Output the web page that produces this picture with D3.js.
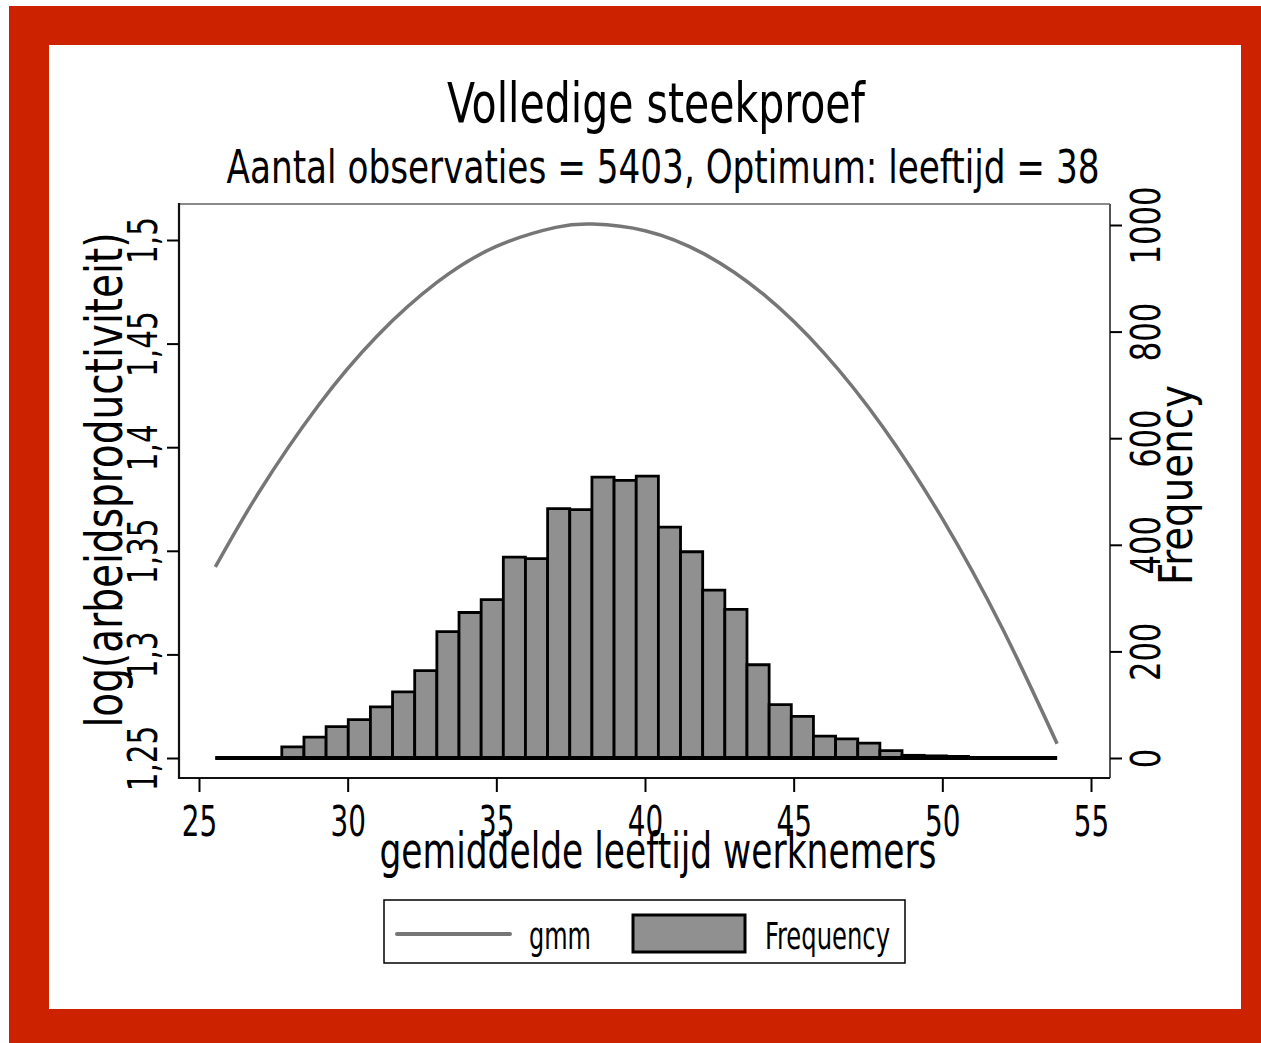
<!DOCTYPE html>
<html><head><meta charset="utf-8">
<script src="https://cdn.jsdelivr.net/npm/d3@7"></script>
<style>
body{margin:0;background:#fff}
svg{display:block}
text{font-family:'Liberation Sans Narrow','DejaVu Sans Condensed','Arial Narrow',sans-serif;fill:#000}
</style>
</head><body>
<svg id="c" width="1261" height="1043"></svg>
<script>
// ---------- data ----------
const titleText = "Volledige steekproef";
const subtitleText = "Aantal observaties = 5403, Optimum: leeftijd = 38";
const xLabel = "gemiddelde leeftijd werknemers";
const yLeftLabel = "log(arbeidsproductiviteit)";
const yRightLabel = "Frequency";
const legendLabels = ["gmm", "Frequency"];

const xTicks = [25, 30, 35, 40, 45, 50, 55];
const xTickLabels = ["25", "30", "35", "40", "45", "50", "55"];
const yLeftTicks = [1.25, 1.3, 1.35, 1.4, 1.45, 1.5];
const yLeftTickLabels = ["1,25", "1,3", "1,35", "1,4", "1,45", "1,5"];
const yRightTicks = [0, 200, 400, 600, 800, 1000];
const yRightTickLabels = ["0", "200", "400", "600", "800", "1000"];

// histogram of average employee age (38 bins)
const histStart = 25.55;
const histBinWidth = 0.745;
const frequencies = [0, 0, 0, 21, 39, 59, 72, 96, 124, 164, 237, 273, 297, 377, 374, 468, 466, 527, 521, 529,
                     433, 387, 315, 279, 175, 100, 78, 41, 36, 28, 14, 5, 4, 3, 1, 0, 0, 0];

// gmm fitted curve (age, log productivity)
const gmmAge   = [25.55, 27, 29, 31, 33, 35, 37, 38.24, 40, 42, 44, 46, 48, 50, 52, 53.86];
const gmmValue = [1.3422, 1.3779, 1.4199, 1.4538, 1.4795, 1.4969, 1.5061, 1.5077, 1.5045, 1.4932,
                  1.4736, 1.4458, 1.4098, 1.3655, 1.3131, 1.2569];

// ---------- layout ----------
const svg = d3.select("#c");
const frame = {l: 179, r: 1110, t: 204, b: 778};
const x  = d3.scaleLinear().domain([25, 55]).range([199, 1091]);
const yL = d3.scaleLinear().domain([1.25, 1.5]).range([758, 240]);
const yR = d3.scaleLinear().domain([0, 1000]).range([758, 225]);
const barFill = "#909090", lineCol = "#767676";

function squeeze(sel, k) {
  sel.each(function() {
    const len = this.getComputedTextLength();
    d3.select(this).attr("textLength", len * k).attr("lengthAdjust", "spacingAndGlyphs");
  });
}
function fitTo(sel, w) {
  sel.attr("textLength", w).attr("lengthAdjust", "spacingAndGlyphs");
}

// background + red border
svg.append("rect").attr("x", 9).attr("y", 6).attr("width", 1252).attr("height", 1037).attr("fill", "#cc2200");
svg.append("rect").attr("x", 49).attr("y", 45).attr("width", 1192).attr("height", 964).attr("fill", "#fff");

// titles
fitTo(svg.append("text").attr("x", 656).attr("y", 122).attr("text-anchor", "middle")
  .attr("font-size", 56).text(titleText), 418);
fitTo(svg.append("text").attr("x", 663).attr("y", 183).attr("text-anchor", "middle")
  .attr("font-size", 47).text(subtitleText), 873);

// plot frame
svg.append("line").attr("x1", frame.l).attr("x2", frame.r).attr("y1", frame.t).attr("y2", frame.t)
  .attr("stroke", "#8a8a8a").attr("stroke-width", 2);
svg.append("line").attr("x1", frame.r).attr("x2", frame.r).attr("y1", frame.t).attr("y2", frame.b)
  .attr("stroke", "#555").attr("stroke-width", 2);
svg.append("line").attr("x1", frame.l).attr("x2", frame.l).attr("y1", frame.t - 1).attr("y2", frame.b + 1)
  .attr("stroke", "#111").attr("stroke-width", 2.2);
svg.append("line").attr("x1", frame.l).attr("x2", frame.r).attr("y1", frame.b).attr("y2", frame.b)
  .attr("stroke", "#111").attr("stroke-width", 2.2);

// histogram bars
const bins = frequencies.map((f, i) => ({x0: histStart + i * histBinWidth, x1: histStart + (i + 1) * histBinWidth, f}));
svg.append("g").selectAll("path").data(bins).join("path")
  .attr("d", d => {
    const a = x(d.x0), b = x(d.x1), y0 = yR(0), y1 = yR(d.f);
    return `M${a},${y0}V${y1}H${b}V${y0}Z`;
  })
  .attr("fill", barFill).attr("stroke", "#000").attr("stroke-width", 2.8).attr("stroke-linejoin", "miter");
// heavy base line of the histogram
svg.append("line").attr("x1", x(histStart)).attr("x2", x(histStart + frequencies.length * histBinWidth))
  .attr("y1", yR(0)).attr("y2", yR(0)).attr("stroke", "#000").attr("stroke-width", 4);

// gmm curve
const pts = gmmAge.map((a, i) => [a, gmmValue[i]]);
svg.append("path").datum(pts)
  .attr("d", d3.line().x(d => x(d[0])).y(d => yL(d[1])).curve(d3.curveNatural))
  .attr("fill", "none").attr("stroke", lineCol).attr("stroke-width", 3.5);

// left axis
const gL = svg.append("g").attr("transform", `translate(${frame.l},0)`)
  .call(d3.axisLeft(yL).tickValues(yLeftTicks).tickSize(12).tickSizeOuter(0).tickFormat((d, i) => yLeftTickLabels[i]));
gL.select(".domain").remove();
gL.selectAll(".tick line").attr("stroke", "#000").attr("stroke-width", 2);
gL.selectAll(".tick text").attr("transform", "rotate(-90)").attr("x", 0).attr("y", -22).attr("dy", null)
  .attr("text-anchor", "middle").attr("font-size", 40).attr("fill", "#000").call(squeeze, 0.82);

// right axis
const gR = svg.append("g").attr("transform", `translate(${frame.r},0)`)
  .call(d3.axisRight(yR).tickValues(yRightTicks).tickSize(12).tickSizeOuter(0).tickFormat((d, i) => yRightTickLabels[i]));
gR.select(".domain").remove();
gR.selectAll(".tick line").attr("stroke", "#000").attr("stroke-width", 2);
gR.selectAll(".tick text").attr("transform", "rotate(-90)").attr("x", 0).attr("y", 50).attr("dy", null)
  .attr("text-anchor", "middle").attr("font-size", 40).attr("fill", "#000").call(squeeze, 0.85);

// bottom axis
const gB = svg.append("g").attr("transform", `translate(0,${frame.b})`)
  .call(d3.axisBottom(x).tickValues(xTicks).tickSize(14).tickSizeOuter(0).tickFormat((d, i) => xTickLabels[i]));
gB.select(".domain").remove();
gB.selectAll(".tick line").attr("stroke", "#000").attr("stroke-width", 2);
gB.selectAll(".tick text").attr("y", 58).attr("dy", null).attr("font-size", 43).attr("fill", "#000").call(squeeze, 0.72);

// axis titles
fitTo(svg.append("text").attr("x", 658).attr("y", 868).attr("text-anchor", "middle")
  .attr("font-size", 50).text(xLabel), 557);
fitTo(svg.append("text").attr("transform", "translate(122,480) rotate(-90)").attr("text-anchor", "middle")
  .attr("font-size", 52).text(yLeftLabel), 495);
fitTo(svg.append("text").attr("transform", "translate(1192,485) rotate(-90)").attr("text-anchor", "middle")
  .attr("font-size", 47).text(yRightLabel), 200);

// legend
const lg = svg.append("g");
lg.append("rect").attr("x", 384).attr("y", 900).attr("width", 521).attr("height", 63)
  .attr("fill", "#fff").attr("stroke", "#000").attr("stroke-width", 1.5);
lg.append("line").attr("x1", 397).attr("x2", 510).attr("y1", 934).attr("y2", 934)
  .attr("stroke", lineCol).attr("stroke-width", 4).attr("stroke-linecap", "round");
fitTo(lg.append("text").attr("x", 529).attr("y", 949).attr("font-size", 38).text(legendLabels[0]), 62);
lg.append("rect").attr("x", 633).attr("y", 915).attr("width", 112).attr("height", 37)
  .attr("fill", barFill).attr("stroke", "#000").attr("stroke-width", 3);
fitTo(lg.append("text").attr("x", 765).attr("y", 949).attr("font-size", 38).text(legendLabels[1]), 125);
</script>
</body></html>
